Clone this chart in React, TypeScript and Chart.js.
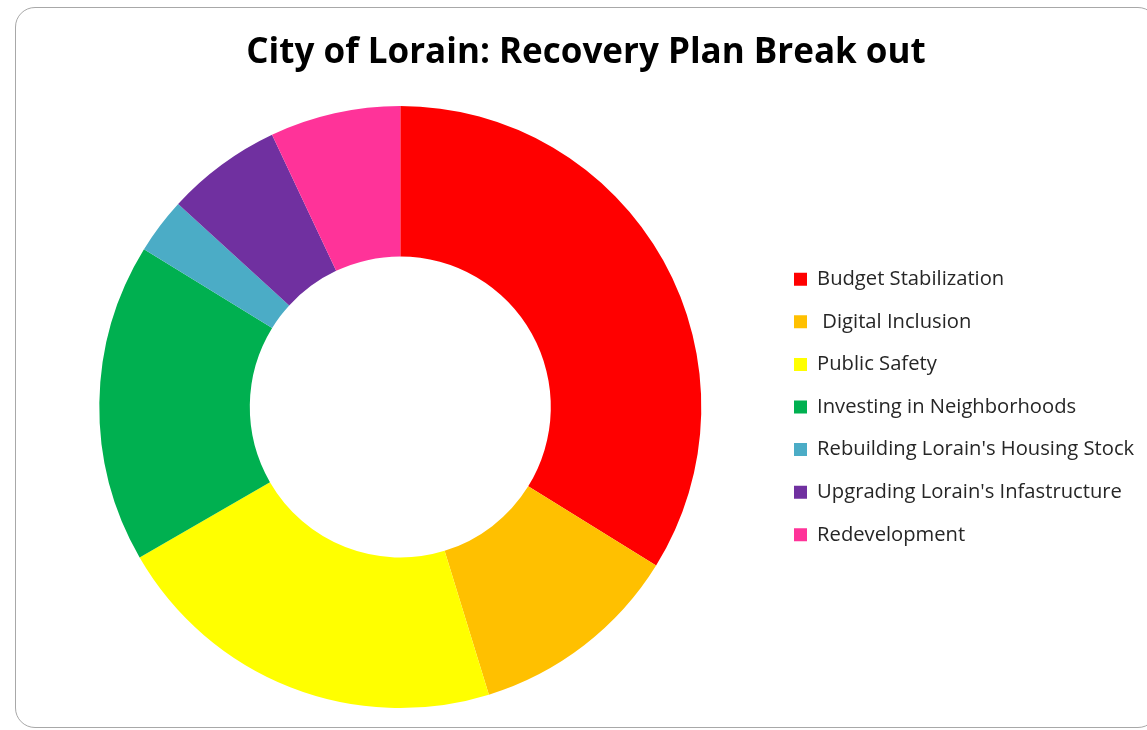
import React, { useEffect, useRef } from "react";
import { Chart, registerables } from "chart.js";

Chart.register(...registerables);

const TITLE = "City of Lorain: Recovery Plan Break out";
const categories = [
  "Budget Stabilization",
  " Digital Inclusion",
  "Public Safety",
  "Investing in Neighborhoods",
  "Rebuilding Lorain's Housing Stock",
  "Upgrading Lorain's Infastructure",
  "Redevelopment",
];
const shares = [33.8, 11.4, 21.4, 17.1, 3.0, 6.2, 7.0];
const colors = ["#FF0000", "#FFC000", "#FFFF00", "#00B050", "#4BACC6", "#7030A0", "#FF3399"];

const FONT = "'Open Sans', Lato, sans-serif";

export default function App() {
  const ref = useRef<HTMLCanvasElement | null>(null);
  useEffect(() => {
    if (!ref.current) return;
    const chart = new Chart(ref.current, {
      type: "doughnut",
      data: {
        labels: categories,
        datasets: [
          {
            data: shares,
            backgroundColor: colors,
            borderWidth: 0,
            hoverOffset: 0,
          },
        ],
      },
      options: {
        animation: false,
        responsive: false,
        maintainAspectRatio: false,
        cutout: "50%",
        layout: { padding: { left: 13, right: 14, top: 0, bottom: 19 } },
        plugins: {
          title: {
            display: true,
            text: TITLE,
            color: "#000000",
            font: { family: FONT, size: 35, weight: "bold", lineHeight: 1.2 },
            padding: { top: 24.5, bottom: 31.5 },
          },
          legend: {
            position: "right",
            align: "center",
            fullSize: false,
            maxWidth: 371.4,
            labels: {
              boxWidth: 13,
              boxHeight: 13,
              padding: 22.4,
              color: "#262626",
              font: { family: FONT, size: 20.2 },
            },
          },
          tooltip: { enabled: false },
        },
      },
    });
    return () => chart.destroy();
  }, []);
  return (
    <div style={{ position: "fixed", left: 0, top: 0, width: 1147, height: 730, overflow: "hidden", background: "#fff" }}>
      <div
        style={{
          position: "absolute",
          left: 15,
          top: 7,
          width: 1143,
          height: 721,
          border: "1px solid #a8a8a8",
          borderRadius: 20,
          boxSizing: "border-box",
          background: "#fff",
        }}
      />
      <canvas ref={ref} width={1141} height={719} style={{ position: "absolute", left: 16, top: 8, width: 1141, height: 719 }} />
    </div>
  );
}
